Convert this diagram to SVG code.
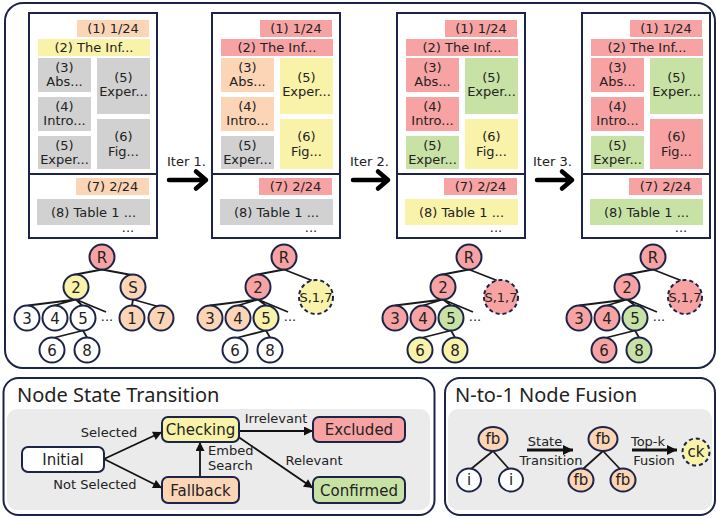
<svg xmlns="http://www.w3.org/2000/svg" width="717" height="518" viewBox="0 0 717 518">
<defs>
<style>
.frame{fill:#fff;stroke:#1c2448;stroke-width:2}
.panel{fill:#fff;stroke:#1c2448;stroke-width:2}
.inner{fill:#ebebeb}
.t{font-family:"DejaVu Sans",sans-serif;font-size:13px;fill:#222;text-anchor:middle}
.tn{font-family:"DejaVu Sans",sans-serif;font-size:15px;fill:#222;text-anchor:middle}
.ts{font-family:"DejaVu Sans",sans-serif;font-size:15px;fill:#222;text-anchor:middle}
.tl{font-family:"DejaVu Sans",sans-serif;font-size:13px;fill:#222}
.title{font-family:"Noto Sans",sans-serif;font-size:20px;fill:#222}
.pk{fill:#f8a3a3}.pc{fill:#fcd5b7}.yl{fill:#f9f3a9}.gr{fill:#c8e2a6}.gy{fill:#d1d1d1}.wh{fill:#fff}
.nd{stroke:#1c2448;stroke-width:2}
.dash{stroke:#1c2448;stroke-width:2;stroke-dasharray:4 3}
.edge{stroke:#1a1a1a;stroke-width:1.8;fill:none}
.arr{stroke:#111;stroke-width:1.8;fill:none;marker-end:url(#ah)}
.arr2{stroke:#111;stroke-width:3;fill:none;marker-end:url(#ah2)}
.big{stroke:#000;stroke-width:4.5;fill:none;stroke-linecap:round;stroke-linejoin:round}
</style>
<marker id="ah" viewBox="0 0 10 10" refX="10" refY="5" markerWidth="10" markerHeight="9" markerUnits="userSpaceOnUse" orient="auto"><path d="M0,0 L10,5 L0,10 z" fill="#111"/></marker>
<marker id="ah2" viewBox="0 0 10 10" refX="10" refY="5" markerWidth="11" markerHeight="10" markerUnits="userSpaceOnUse" orient="auto"><path d="M0,0 L10,5 L0,10 z" fill="#111"/></marker>
</defs>

<!-- panels -->
<rect class="panel" x="5" y="3" width="710" height="365" rx="18"/>
<rect class="panel" x="3.5" y="378" width="431" height="137" rx="15"/>
<rect class="inner" x="7" y="409" width="423" height="101" rx="10"/>
<rect class="panel" x="445" y="378" width="270" height="137" rx="15"/>
<rect class="inner" x="448" y="409" width="264" height="101" rx="10"/>
<text class="title" x="17" y="402">Node State Transition</text>
<text class="title" x="455" y="402">N-to-1 Node Fusion</text>

<!-- pages -->
<g id="page1">
<rect class="frame" x="29" y="13" width="128" height="225"/>
<line x1="29" y1="174" x2="157" y2="174" stroke="#1c2448" stroke-width="2"/>
<g id="p1-b1"><rect class="pc" x="77" y="20" width="72" height="17"/><text class="t" x="113" y="33">(1) 1/24</text></g>
<g id="p1-b2"><rect class="yl" x="38" y="39" width="112" height="17"/><text class="t" x="94" y="52">(2) The Inf...</text></g>
<g id="p1-b3"><rect class="gy" x="38" y="58" width="53" height="34"/><text class="t" x="64.5" y="72">(3)</text><text class="t" x="64.5" y="86">Abs...</text></g>
<g id="p1-b5r"><rect class="gy" x="97" y="58" width="53" height="56"/><text class="t" x="123.5" y="82">(5)</text><text class="t" x="123.5" y="96">Exper...</text></g>
<g id="p1-b4"><rect class="gy" x="38" y="97" width="53" height="34"/><text class="t" x="64.5" y="111">(4)</text><text class="t" x="64.5" y="125">Intro...</text></g>
<g id="p1-b5l"><rect class="gy" x="38" y="136" width="53" height="33"/><text class="t" x="64.5" y="150">(5)</text><text class="t" x="64.5" y="164">Exper...</text></g>
<g id="p1-b6"><rect class="gy" x="97" y="119" width="53" height="50"/><text class="t" x="123.5" y="141">(6)</text><text class="t" x="123.5" y="156">Fig...</text></g>
<g id="p1-b7"><rect class="pc" x="76" y="178" width="73" height="17"/><text class="t" x="112.5" y="191">(7) 2/24</text></g>
<g id="p1-b8"><rect class="gy" x="37" y="199" width="113" height="26"/><text class="t" x="93.5" y="217">(8) Table 1 ...</text></g>
<text class="t" x="128" y="232">...</text>
</g>

<g id="page2" transform="translate(183,0)">
<rect class="frame" x="29" y="13" width="128" height="225"/>
<line x1="29" y1="174" x2="157" y2="174" stroke="#1c2448" stroke-width="2"/>
<g id="p2-b1"><rect class="pk" x="77" y="20" width="72" height="17"/><text class="t" x="113" y="33">(1) 1/24</text></g>
<g id="p2-b2"><rect class="pk" x="38" y="39" width="112" height="17"/><text class="t" x="94" y="52">(2) The Inf...</text></g>
<g id="p2-b3"><rect class="pc" x="38" y="58" width="53" height="34"/><text class="t" x="64.5" y="72">(3)</text><text class="t" x="64.5" y="86">Abs...</text></g>
<g id="p2-b5r"><rect class="yl" x="97" y="58" width="53" height="56"/><text class="t" x="123.5" y="82">(5)</text><text class="t" x="123.5" y="96">Exper...</text></g>
<g id="p2-b4"><rect class="pc" x="38" y="97" width="53" height="34"/><text class="t" x="64.5" y="111">(4)</text><text class="t" x="64.5" y="125">Intro...</text></g>
<g id="p2-b5l"><rect class="gy" x="38" y="136" width="53" height="33"/><text class="t" x="64.5" y="150">(5)</text><text class="t" x="64.5" y="164">Exper...</text></g>
<g id="p2-b6"><rect class="yl" x="97" y="119" width="53" height="50"/><text class="t" x="123.5" y="141">(6)</text><text class="t" x="123.5" y="156">Fig...</text></g>
<g id="p2-b7"><rect class="pk" x="76" y="178" width="73" height="17"/><text class="t" x="112.5" y="191">(7) 2/24</text></g>
<g id="p2-b8"><rect class="gy" x="37" y="199" width="113" height="26"/><text class="t" x="93.5" y="217">(8) Table 1 ...</text></g>
<text class="t" x="128" y="232">...</text>
</g>

<g id="page3" transform="translate(368,0)">
<rect class="frame" x="29" y="13" width="128" height="225"/>
<line x1="29" y1="174" x2="157" y2="174" stroke="#1c2448" stroke-width="2"/>
<g id="p3-b1"><rect class="pk" x="77" y="20" width="72" height="17"/><text class="t" x="113" y="33">(1) 1/24</text></g>
<g id="p3-b2"><rect class="pk" x="38" y="39" width="112" height="17"/><text class="t" x="94" y="52">(2) The Inf...</text></g>
<g id="p3-b3"><rect class="pk" x="38" y="58" width="53" height="34"/><text class="t" x="64.5" y="72">(3)</text><text class="t" x="64.5" y="86">Abs...</text></g>
<g id="p3-b5r"><rect class="gr" x="97" y="58" width="53" height="56"/><text class="t" x="123.5" y="82">(5)</text><text class="t" x="123.5" y="96">Exper...</text></g>
<g id="p3-b4"><rect class="pk" x="38" y="97" width="53" height="34"/><text class="t" x="64.5" y="111">(4)</text><text class="t" x="64.5" y="125">Intro...</text></g>
<g id="p3-b5l"><rect class="gr" x="38" y="136" width="53" height="33"/><text class="t" x="64.5" y="150">(5)</text><text class="t" x="64.5" y="164">Exper...</text></g>
<g id="p3-b6"><rect class="yl" x="97" y="119" width="53" height="50"/><text class="t" x="123.5" y="141">(6)</text><text class="t" x="123.5" y="156">Fig...</text></g>
<g id="p3-b7"><rect class="pk" x="76" y="178" width="73" height="17"/><text class="t" x="112.5" y="191">(7) 2/24</text></g>
<g id="p3-b8"><rect class="yl" x="37" y="199" width="113" height="26"/><text class="t" x="93.5" y="217">(8) Table 1 ...</text></g>
<text class="t" x="128" y="232">...</text>
</g>

<g id="page4" transform="translate(553,0)">
<rect class="frame" x="29" y="13" width="128" height="225"/>
<line x1="29" y1="174" x2="157" y2="174" stroke="#1c2448" stroke-width="2"/>
<g id="p4-b1"><rect class="pk" x="77" y="20" width="72" height="17"/><text class="t" x="113" y="33">(1) 1/24</text></g>
<g id="p4-b2"><rect class="pk" x="38" y="39" width="112" height="17"/><text class="t" x="94" y="52">(2) The Inf...</text></g>
<g id="p4-b3"><rect class="pk" x="38" y="58" width="53" height="34"/><text class="t" x="64.5" y="72">(3)</text><text class="t" x="64.5" y="86">Abs...</text></g>
<g id="p4-b5r"><rect class="gr" x="97" y="58" width="53" height="56"/><text class="t" x="123.5" y="82">(5)</text><text class="t" x="123.5" y="96">Exper...</text></g>
<g id="p4-b4"><rect class="pk" x="38" y="97" width="53" height="34"/><text class="t" x="64.5" y="111">(4)</text><text class="t" x="64.5" y="125">Intro...</text></g>
<g id="p4-b5l"><rect class="gr" x="38" y="136" width="53" height="33"/><text class="t" x="64.5" y="150">(5)</text><text class="t" x="64.5" y="164">Exper...</text></g>
<g id="p4-b6"><rect class="pk" x="97" y="119" width="53" height="50"/><text class="t" x="123.5" y="141">(6)</text><text class="t" x="123.5" y="156">Fig...</text></g>
<g id="p4-b7"><rect class="pk" x="76" y="178" width="73" height="17"/><text class="t" x="112.5" y="191">(7) 2/24</text></g>
<g id="p4-b8"><rect class="gr" x="37" y="199" width="113" height="26"/><text class="t" x="93.5" y="217">(8) Table 1 ...</text></g>
<text class="t" x="128" y="232">...</text>
</g>

<!-- iteration labels -->
<text class="tl" x="167" y="166" font-size="14">Iter 1.</text>
<text class="tl" x="350" y="166" font-size="14">Iter 2.</text>
<text class="tl" x="533" y="166" font-size="14">Iter 3.</text>

<!-- connectors -->
<g id="connectors">
<path class="big" d="M169,180 H204 M196,171.5 L206,180 L196,188.5"/>
<path class="big" d="M353,180 H386 M378,171.5 L388,180 L378,188.5"/>
<path class="big" d="M537,180 H570 M562,171.5 L572,180 L562,188.5"/>

<g id="tree1-edges">
<path class="edge" d="M102,269.5 L73,275 M102,269.5 L137,276 M76,299.5 L28,305.5 M76,299.5 L54,305.5 M76,299.5 L82,305.5 M76,299.5 L106,312 M133,299.5 L132,305.5 M133,299.5 L158,306.5 M83,330.5 L55,337.5 M83,330.5 L87,337.5"/>
</g>
<g id="tree2-edges" transform="translate(182,0)">
<path class="edge" d="M102,269.5 L73,275 M102,269.5 L130,280.5 M76,299.5 L28,305.5 M76,299.5 L56,305.5 M76,299.5 L84,305.5 M76,299.5 L106,312 M84,330.5 L56,337.5 M84,330.5 L88,337.5"/>
</g>
<g id="tree3-edges" transform="translate(367,0)">
<path class="edge" d="M102,269.5 L73,275 M102,269.5 L130,280.5 M76,299.5 L28,305.5 M76,299.5 L56,305.5 M76,299.5 L84,305.5 M76,299.5 L106,312 M84,330.5 L56,337.5 M84,330.5 L88,337.5"/>
</g>
<g id="tree4-edges" transform="translate(551,0)">
<path class="edge" d="M102,269.5 L73,275 M102,269.5 L130,280.5 M76,299.5 L28,305.5 M76,299.5 L56,305.5 M76,299.5 L84,305.5 M76,299.5 L106,312 M84,330.5 L56,337.5 M84,330.5 L88,337.5"/>
</g>

<line class="arr" x1="104" y1="459" x2="162" y2="432"/>
<line class="arr" x1="104" y1="459" x2="162" y2="488"/>
<line class="arr" x1="200" y1="477" x2="200" y2="442"/>
<line class="arr" x1="239" y1="431" x2="313" y2="431"/>
<line class="arr" x1="237" y1="436" x2="313" y2="488"/>
<text class="t" x="109" y="437">Selected</text>
<text class="t" x="95" y="489">Not Selected</text>
<text class="t" x="276" y="423">Irrelevant</text>
<text class="tl" x="208" y="455">Embed</text>
<text class="tl" x="208" y="470">Search</text>
<text class="t" x="314" y="465">Relevant</text>

<path class="edge" d="M493,451 L471,469 M493,451 L509,469 M603,451 L583,469 M603,451 L620,469"/>
<line class="arr2" x1="527" y1="450" x2="573" y2="450"/>
<line class="arr2" x1="632" y1="450" x2="677" y2="450"/>
<text class="t" x="545" y="446">State</text>
<text class="t" x="551" y="465">Transition</text>
<text class="t" x="648" y="446">Top-k</text>
<text class="t" x="654" y="465">Fusion</text>
</g>

<!-- tree 1 nodes -->
<g id="tree1">
<g id="t1-R"><circle class="pk nd" cx="102" cy="257" r="12.5"/><text class="tn" x="102" y="262.5">R</text></g>
<g id="t1-2"><circle class="yl nd" cx="76" cy="287" r="12.5"/><text class="tn" x="76" y="292.5">2</text></g>
<g id="t1-S"><circle class="pc nd" cx="133" cy="287" r="12.5"/><text class="tn" x="133" y="292.5">S</text></g>
<g id="t1-3"><circle class="wh nd" cx="27" cy="318" r="12.5"/><text class="tn" x="27" y="323.5">3</text></g>
<g id="t1-4"><circle class="wh nd" cx="55" cy="318" r="12.5"/><text class="tn" x="55" y="323.5">4</text></g>
<g id="t1-5"><circle class="wh nd" cx="83" cy="318" r="12.5"/><text class="tn" x="83" y="323.5">5</text></g>
<text class="t" x="107" y="321">...</text>
<g id="t1-1"><circle class="pc nd" cx="132" cy="318" r="12.5"/><text class="tn" x="132" y="323.5">1</text></g>
<g id="t1-7"><circle class="pc nd" cx="161" cy="318" r="12.5"/><text class="tn" x="161" y="323.5">7</text></g>
<g id="t1-6"><circle class="wh nd" cx="52" cy="350" r="12.5"/><text class="tn" x="52" y="355.5">6</text></g>
<g id="t1-8"><circle class="wh nd" cx="87" cy="350" r="12.5"/><text class="tn" x="87" y="355.5">8</text></g>
</g>

<g id="tree2" transform="translate(182,0)">
<g id="t2-R"><circle class="pk nd" cx="102" cy="257" r="12.5"/><text class="tn" x="102" y="262.5">R</text></g>
<g id="t2-2"><circle class="pk nd" cx="76" cy="287" r="12.5"/><text class="tn" x="76" y="292.5">2</text></g>
<g id="t2-S17"><circle class="yl dash" cx="134" cy="297" r="17"/><text class="t" x="134" y="302">S,1,7</text></g>
<g id="t2-3"><circle class="pc nd" cx="28" cy="318" r="12.5"/><text class="tn" x="28" y="323.5">3</text></g>
<g id="t2-4"><circle class="pc nd" cx="56" cy="318" r="12.5"/><text class="tn" x="56" y="323.5">4</text></g>
<g id="t2-5"><circle class="yl nd" cx="84" cy="318" r="12.5"/><text class="tn" x="84" y="323.5">5</text></g>
<text class="t" x="108" y="321">...</text>
<g id="t2-6"><circle class="wh nd" cx="53" cy="350" r="12.5"/><text class="tn" x="53" y="355.5">6</text></g>
<g id="t2-8"><circle class="wh nd" cx="88" cy="350" r="12.5"/><text class="tn" x="88" y="355.5">8</text></g>
</g>

<g id="tree3" transform="translate(367,0)">
<g id="t3-R"><circle class="pk nd" cx="102" cy="257" r="12.5"/><text class="tn" x="102" y="262.5">R</text></g>
<g id="t3-2"><circle class="pk nd" cx="76" cy="287" r="12.5"/><text class="tn" x="76" y="292.5">2</text></g>
<g id="t3-S17"><circle class="pk dash" cx="134" cy="297" r="17"/><text class="t" x="134" y="302">S,1,7</text></g>
<g id="t3-3"><circle class="pk nd" cx="28" cy="318" r="12.5"/><text class="tn" x="28" y="323.5">3</text></g>
<g id="t3-4"><circle class="pk nd" cx="56" cy="318" r="12.5"/><text class="tn" x="56" y="323.5">4</text></g>
<g id="t3-5"><circle class="gr nd" cx="84" cy="318" r="12.5"/><text class="tn" x="84" y="323.5">5</text></g>
<text class="t" x="108" y="321">...</text>
<g id="t3-6"><circle class="yl nd" cx="53" cy="350" r="12.5"/><text class="tn" x="53" y="355.5">6</text></g>
<g id="t3-8"><circle class="yl nd" cx="88" cy="350" r="12.5"/><text class="tn" x="88" y="355.5">8</text></g>
</g>

<g id="tree4" transform="translate(551,0)">
<g id="t4-R"><circle class="pk nd" cx="102" cy="257" r="12.5"/><text class="tn" x="102" y="262.5">R</text></g>
<g id="t4-2"><circle class="pk nd" cx="76" cy="287" r="12.5"/><text class="tn" x="76" y="292.5">2</text></g>
<g id="t4-S17"><circle class="pk dash" cx="134" cy="297" r="17"/><text class="t" x="134" y="302">S,1,7</text></g>
<g id="t4-3"><circle class="pk nd" cx="28" cy="318" r="12.5"/><text class="tn" x="28" y="323.5">3</text></g>
<g id="t4-4"><circle class="pk nd" cx="56" cy="318" r="12.5"/><text class="tn" x="56" y="323.5">4</text></g>
<g id="t4-5"><circle class="gr nd" cx="84" cy="318" r="12.5"/><text class="tn" x="84" y="323.5">5</text></g>
<text class="t" x="108" y="321">...</text>
<g id="t4-6"><circle class="pk nd" cx="53" cy="350" r="12.5"/><text class="tn" x="53" y="355.5">6</text></g>
<g id="t4-8"><circle class="gr nd" cx="88" cy="350" r="12.5"/><text class="tn" x="88" y="355.5">8</text></g>
</g>

<!-- state transition nodes -->
<g id="st-initial"><rect class="wh nd" x="22" y="447" width="82" height="25" rx="6"/><text class="ts" x="63" y="465">Initial</text></g>
<g id="st-checking"><rect class="yl nd" x="162" y="417" width="77" height="25" rx="6"/><text class="ts" x="200.5" y="435">Checking</text></g>
<g id="st-fallback"><rect class="pc nd" x="162" y="477" width="77" height="26" rx="6"/><text class="ts" x="200.5" y="495.5">Fallback</text></g>
<g id="st-excluded"><rect class="pk nd" x="313" y="417" width="92" height="25" rx="6"/><text class="ts" x="359" y="435">Excluded</text></g>
<g id="st-confirmed"><rect class="gr nd" x="313" y="477" width="92" height="26" rx="6"/><text class="ts" x="359" y="495.5">Confirmed</text></g>

<!-- fusion nodes -->
<g id="fu-fb1"><ellipse class="pc nd" cx="493" cy="439" rx="14.5" ry="12"/><text class="tn" x="493" y="444">fb</text></g>
<g id="fu-i1"><ellipse class="wh nd" cx="469" cy="480" rx="12" ry="11.5"/><text class="tn" x="469" y="485">i</text></g>
<g id="fu-i2"><ellipse class="wh nd" cx="511" cy="480" rx="12" ry="11.5"/><text class="tn" x="511" y="485">i</text></g>
<g id="fu-fb2"><ellipse class="pc nd" cx="603" cy="439" rx="14.5" ry="12"/><text class="tn" x="603" y="444">fb</text></g>
<g id="fu-fb3"><ellipse class="pc nd" cx="581" cy="480" rx="12.5" ry="11.5"/><text class="tn" x="581" y="485">fb</text></g>
<g id="fu-fb4"><ellipse class="pc nd" cx="623" cy="480" rx="12.5" ry="11.5"/><text class="tn" x="623" y="485">fb</text></g>
<g id="fu-ck"><circle class="yl dash" cx="696" cy="452" r="13.5"/><text class="tn" x="696" y="457">ck</text></g>
</svg>
